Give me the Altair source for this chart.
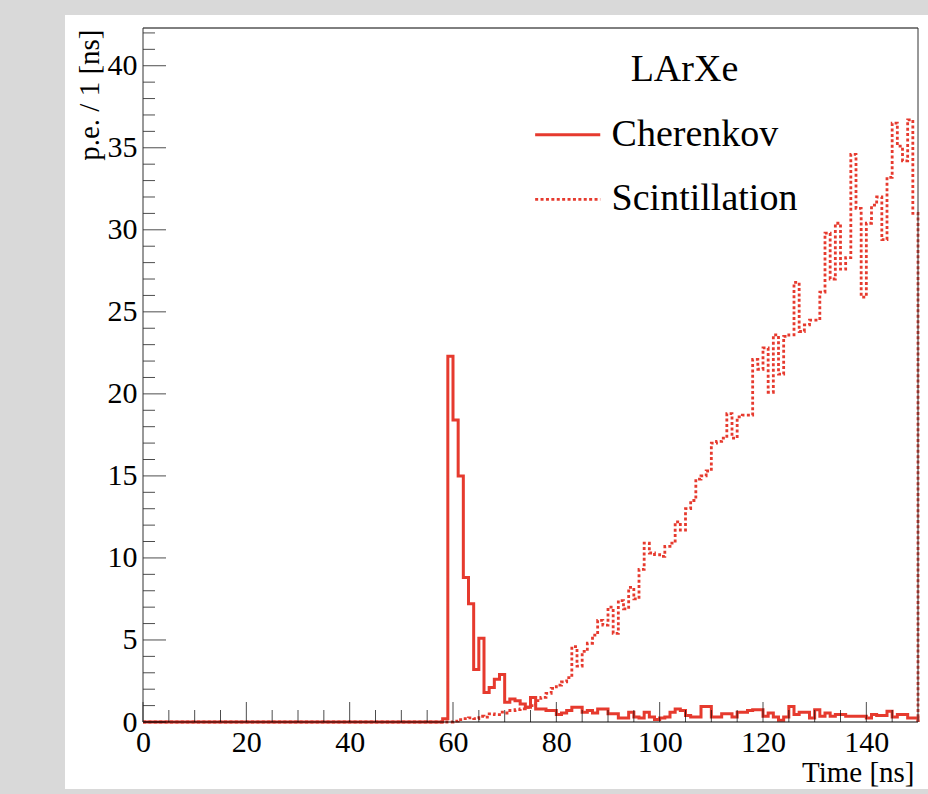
import altair as alt
import pandas as pd

# ---------------- data (1 ns bins, 0..150 ns) ----------------
bin_edges = list(range(0, 151))

cherenkov = [
    0, 0, 0, 0, 0, 0, 0, 0, 0, 0,
    0, 0, 0, 0, 0, 0, 0, 0, 0, 0,
    0, 0, 0, 0, 0, 0, 0, 0, 0, 0,
    0, 0, 0, 0, 0, 0, 0, 0, 0, 0,
    0, 0, 0, 0, 0, 0, 0, 0, 0, 0,
    0, 0, 0, 0, 0, 0, 0, 0, 0.2, 22.3,
    18.4, 15.0, 8.8, 7.2, 3.2, 5.1, 1.8, 2.1, 2.6, 2.9,
    1.2, 1.4, 1.3, 1.1, 0.9, 1.5, 0.8, 0.8, 0.7, 0.7,
    0.45, 0.55, 0.7, 0.9, 0.9, 0.6, 0.7, 0.55, 0.8, 0.8,
    0.5, 0.5, 0.25, 0.25, 0.6, 0.3, 0.25, 0.6, 0.3, 0.15,
    0.25, 0.3, 0.6, 0.8, 0.7, 0.4, 0.3, 0.3, 0.95, 0.95,
    0.3, 0.3, 0.5, 0.5, 0.3, 0.6, 0.6, 0.7, 0.75, 0.75,
    0.35, 0.55, 0.3, 0.1, 0.3, 0.95, 0.45, 0.6, 0.6, 0.25,
    0.75, 0.35, 0.55, 0.35, 0.45, 0.45, 0.35, 0.35, 0.35, 0.35,
    0.25, 0.45, 0.4, 0.4, 0.65, 0.3, 0.45, 0.45, 0.25, 0.25,
]

scintillation = [
    0, 0, 0, 0, 0, 0, 0, 0, 0, 0,
    0, 0, 0, 0, 0, 0, 0, 0, 0, 0,
    0, 0, 0, 0, 0, 0, 0, 0, 0, 0,
    0, 0, 0, 0, 0, 0, 0, 0, 0, 0,
    0, 0, 0, 0, 0, 0, 0, 0, 0, 0,
    0, 0, 0, 0, 0, 0, 0, 0, 0, 0,
    0.05, 0.15, 0.2, 0.25, 0.2, 0.35, 0.3, 0.5, 0.45, 0.6,
    0.55, 0.7, 0.75, 0.8, 0.9, 1.0, 1.3, 1.5, 1.75, 2.05,
    2.25, 2.45, 2.7, 4.6, 3.4, 4.3, 4.8, 5.3, 6.2, 5.9,
    7.0, 5.4, 7.4, 6.9, 8.2, 7.5, 9.3, 10.9, 10.3, 10.2,
    10.1, 10.7, 10.9, 12.2, 11.7, 13.0, 13.5, 14.8, 15.0, 15.3,
    17.0, 17.1, 17.3, 18.8, 17.3, 18.6, 18.7, 18.7, 22.1, 21.5,
    22.8, 20.1, 23.6, 21.2, 23.5, 23.6, 26.8, 23.8, 24.2, 24.5,
    24.5, 26.2, 29.8, 27.0, 30.4, 27.6, 28.3, 34.6, 31.3, 25.9,
    30.4, 31.5, 32.0, 29.4, 33.2, 36.5, 35.1, 34.2, 36.7, 31.0,
]

series_names = ["Cherenkov", "Scintillation"]
legend_header = "LArXe"
x_title = "Time [ns]"
y_title = "p.e. / 1 [ns]"

x_domain = [0, 150]
y_domain = [0, 42.3]
x_major = [0, 20, 40, 60, 80, 100, 120, 140]
x_minor = [5, 10, 15, 25, 30, 35, 45, 50, 55, 65, 70, 75, 85, 90, 95,
           105, 110, 115, 125, 130, 135, 145]
y_major = [0, 5, 10, 15, 20, 25, 30, 35, 40]
y_minor = [1, 2, 3, 4, 6, 7, 8, 9, 11, 12, 13, 14, 16, 17, 18, 19, 21, 22,
           23, 24, 26, 27, 28, 29, 31, 32, 33, 34, 36, 37, 38, 39, 41, 42]

# legend anchor positions (data units)
legend_sample_x = [75.9, 88.5]
legend_text_x = 90.7
legend_rows_y = [35.8, 31.85]
legend_text_y = [35.1, 31.2]
legend_header_pos = [104.8, 39.1]

# ---------------- styling ----------------
RED = "#e63a2e"
FONT = "Liberation Serif"
W, H = 775, 694
DOT = [3, 2.4]

def hist_frame(values):
    return pd.DataFrame({"t": bin_edges, "v": list(values) + [0.0]})

df_c = hist_frame(cherenkov)
df_s = hist_frame(scintillation)

xs = alt.Scale(domain=x_domain, nice=False, zero=False)
ys = alt.Scale(domain=y_domain, nice=False, zero=False)

one = pd.DataFrame({"a": [0]})

panel = alt.Chart(one).mark_rect(fill="white", stroke=None).encode(
    x=alt.value(-78), x2=alt.value(W + 10), y=alt.value(-13), y2=alt.value(H + 67)
)

x_axis = alt.Axis(
    values=x_major, ticks=False, tickSize=0, domain=False, grid=False, zindex=2,
    labelFont=FONT, labelFontSize=30, labelColor="black", labelPadding=5,
    labelFlush=False, labelOverlap=False,
    title=x_title, titleFont=FONT, titleFontSize=29, titleFontWeight="normal",
    titleColor="black", titleAnchor="end", titleAlign="right",
    titleBaseline="alphabetic", titleX=W - 4, titleY=59, titleAngle=0,
)
y_axis = alt.Axis(
    values=y_major, ticks=False, tickSize=0, domain=False, grid=False, zindex=2,
    labelFont=FONT, labelFontSize=30, labelColor="black", labelPadding=6,
    labelFlush=False, labelOverlap=False,
    title=y_title, titleFont=FONT, titleFontSize=29, titleFontWeight="normal",
    titleColor="black", titleAngle=270, titleAlign="right",
    titleBaseline="middle", titleX=-54, titleY=1,
)

line_c = alt.Chart(df_c).mark_line(
    interpolate="step-after", color=RED, strokeWidth=3
).encode(
    x=alt.X("t:Q", scale=xs, axis=x_axis),
    y=alt.Y("v:Q", scale=ys, axis=y_axis),
)

line_s = alt.Chart(df_s).mark_line(
    interpolate="step-after", color=RED, strokeWidth=2.8,
    strokeDash=DOT, strokeCap="butt",
).encode(x="t:Q", y="v:Q")

# inward ticks (ROOT style)
xmaj = alt.Chart(pd.DataFrame({"t": x_major})).mark_tick(
    orient="vertical", size=20, thickness=1, color="black", yOffset=-10
).encode(x="t:Q", y=alt.datum(0))
xmin = alt.Chart(pd.DataFrame({"t": x_minor})).mark_tick(
    orient="vertical", size=12, thickness=1, color="black", yOffset=-6
).encode(x="t:Q", y=alt.datum(0))
ymaj = alt.Chart(pd.DataFrame({"v": y_major})).mark_tick(
    orient="horizontal", size=23, thickness=1, color="black", xOffset=11.5
).encode(y="v:Q", x=alt.datum(0))
ymin = alt.Chart(pd.DataFrame({"v": y_minor})).mark_tick(
    orient="horizontal", size=12, thickness=1, color="black", xOffset=6
).encode(y="v:Q", x=alt.datum(0))

# frame
frame_h = alt.Chart(pd.DataFrame({"v": [y_domain[0], y_domain[1]]})).mark_rule(
    color="black", strokeWidth=1
).encode(x=alt.datum(x_domain[0]), x2=alt.datum(x_domain[1]), y="v:Q")
frame_v = alt.Chart(pd.DataFrame({"t": [x_domain[0], x_domain[1]]})).mark_rule(
    color="#333333", strokeWidth=1
).encode(x="t:Q", y=alt.datum(y_domain[0]), y2=alt.datum(y_domain[1]))

# legend
leg_head = alt.Chart(one).mark_text(
    font=FONT, fontSize=38, color="black", align="center", baseline="alphabetic"
).encode(x=alt.datum(legend_header_pos[0]), y=alt.datum(legend_header_pos[1]),
         text=alt.value(legend_header))
leg_c_line = alt.Chart(one).mark_rule(color=RED, strokeWidth=3).encode(
    x=alt.datum(legend_sample_x[0]), x2=alt.datum(legend_sample_x[1]),
    y=alt.datum(legend_rows_y[0]))
leg_s_line = alt.Chart(one).mark_rule(
    color=RED, strokeWidth=2.8, strokeDash=DOT, strokeCap="butt"
).encode(
    x=alt.datum(legend_sample_x[0]), x2=alt.datum(legend_sample_x[1]),
    y=alt.datum(legend_rows_y[1]))
leg_c_text = alt.Chart(one).mark_text(
    font=FONT, fontSize=38, color="black", align="left", baseline="alphabetic"
).encode(x=alt.datum(legend_text_x), y=alt.datum(legend_text_y[0]),
         text=alt.value(series_names[0]))
leg_s_text = alt.Chart(one).mark_text(
    font=FONT, fontSize=38, color="black", align="left", baseline="alphabetic"
).encode(x=alt.datum(legend_text_x), y=alt.datum(legend_text_y[1]),
         text=alt.value(series_names[1]))

chart = alt.layer(
    panel, line_c, line_s, xmaj, xmin, ymaj, ymin, frame_h, frame_v,
    leg_head, leg_c_line, leg_s_line, leg_c_text, leg_s_text,
).properties(
    width=W, height=H,
    padding={"left": 143, "top": 28, "right": 10, "bottom": 72},
    autosize=alt.AutoSizeParams(type="none"),
    background="#d9d9d9",
).configure_view(stroke=None)

chart.save("out.html", embed_options={"renderer": "svg", "actions": False})
